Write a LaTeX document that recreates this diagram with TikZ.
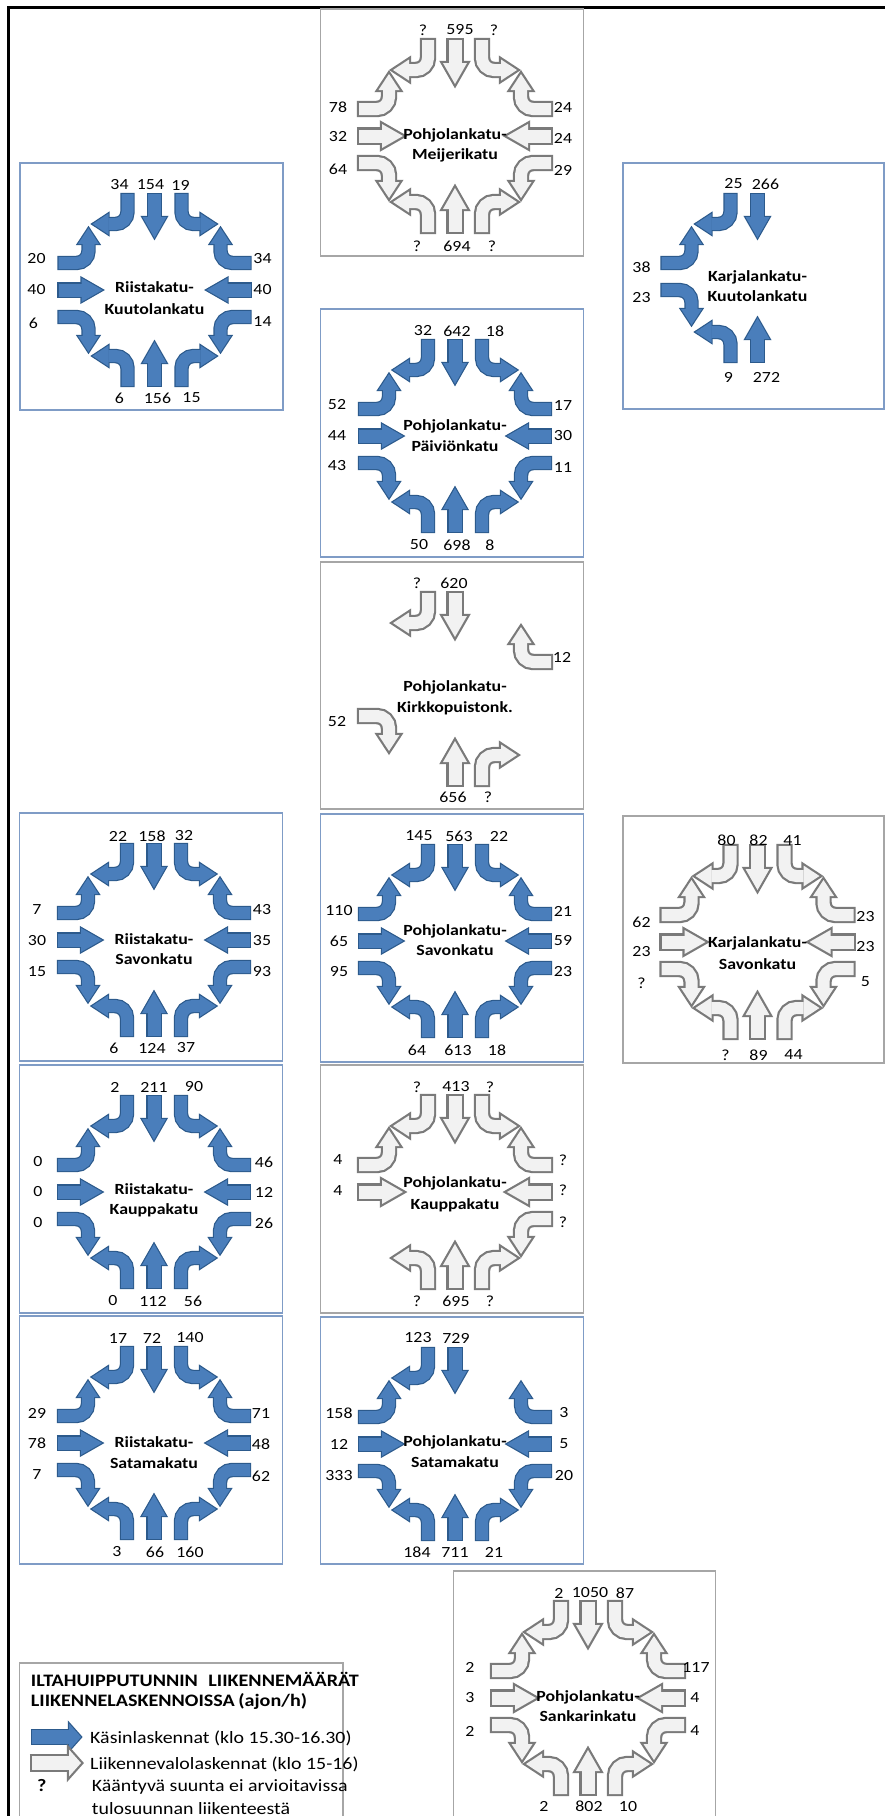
\documentclass[tikz,border=0pt]{standalone}
\usepackage{fontspec}
\setmainfont{Carlito}[FakeStretch=1.15]
\definecolor{bfill}{HTML}{4A7EBB}
\definecolor{bbord}{HTML}{2C5A8C}
\definecolor{gfill}{HTML}{F2F2F2}
\definecolor{gbord}{HTML}{7A7A7A}
\definecolor{bbox}{HTML}{7F9CC6}
\definecolor{gbox}{HTML}{A6A6A6}
\newcommand\setblue{\def\AF{bfill}\def\AB{bbord}\def\BW{1.2}}
\newcommand\setgray{\def\AF{gfill}\def\AB{gbord}\def\BW{2.2}}
% straight arrow, canonical: from top, pointing down
\newcommand\SA[2][]{%
 \begin{scope}[#1,rotate=#2]
  \draw[\AB, line width={(13+2*\BW)*1pt}] (0,-96-\BW) -- (0,-73);
  \filldraw[\AB, line width={2*\BW*1pt}] (-12,-73) -- (0,-52) -- (12,-73) -- cycle;
  \draw[\AF, line width=13pt] (0,-96) -- (0,-72.8);
  \fill[\AF] (-12,-73) -- (0,-52) -- (12,-73) -- cycle;
 \end{scope}}
% turning arrow, canonical: from top, turning outward (sigma = +1 to the right of screen)
\newcommand\TA[3][]{%
 \begin{scope}[#1,rotate=#2,xscale=#3]
  \draw[\AB, line width={(12+2*\BW)*1pt}, rounded corners=12pt] (27,-96-\BW) |- (46,-66);
  \filldraw[\AB, line width={2*\BW*1pt}] (46,-76.5) -- (62,-66) -- (46,-55.5) -- cycle;
  \draw[\AF, line width=12pt, rounded corners=12pt] (27,-96) |- (46.2,-66);
  \fill[\AF] (46,-76.5) -- (62,-66) -- (46,-55.5) -- cycle;
 \end{scope}}
\newcommand\allarrows{\SA{0}\SA{90}\SA{180}\SA{-90}%
 \TA{0}{1}\TA{0}{-1}\TA{90}{1}\TA{90}{-1}\TA{180}{1}\TA{180}{-1}\TA{-90}{1}\TA{-90}{-1}}
\newcounter{lb}
\newcommand\lab[3]{\stepcounter{lb}\node[lbl] (lb\arabic{lb}) at (#1,#2) {#3};}
\newcommand\nm[4]{\stepcounter{lb}%
 \node[nmf] (na\arabic{lb}) at (0,#1+4.8) {#3};%
 \node[nmf] (nb\arabic{lb}) at (0,#2+4.8) {#4};}
% legend arrow
\newcommand\LA[1]{%
  \draw[\AB, line width={(14+2*\BW)*1pt}] (32-\BW,#1) -- (69,#1);
  \filldraw[\AB, line width={2*\BW*1pt}] (69,#1-13.5) -- (81,#1) -- (69,#1+13.5) -- cycle;
  \draw[\AF, line width=14pt] (32,#1) -- (69.2,#1);
  \fill[\AF] (69,#1-13.5) -- (81,#1) -- (69,#1+13.5) -- cycle;}
\begin{document}
\begin{tikzpicture}[x=1pt,y=-1pt,
  lbl/.style={inner sep=0pt, font=\fontsize{15.5}{18}\selectfont},
  nmf/.style={anchor=base, inner sep=0pt, font=\fontsize{15.5}{18}\selectfont\bfseries},
  bpanel/.style={draw=bbox, line width=1.3pt},
  gpanel/.style={draw=gbox, line width=1.3pt},
  legtxt/.style={anchor=base west, inner sep=0pt, font=\fontsize{17.3}{18}\selectfont},
  legbold/.style={anchor=base west, inner sep=0pt, font=\fontsize{17.5}{18}\selectfont\bfseries}]
\useasboundingbox (0,0) rectangle (885,1816);
\fill[white] (0,0) rectangle (885,1816);
\draw[black, line width=3pt] (8.5,1830) -- (8.5,7.5) -- (895,7.5);

% ---------- boxes ----------
\path[gpanel] (320.5,9) rectangle ++(263,247);
\path[bpanel] (20,163) rectangle ++(263,247);
\path[bpanel] (623,163) rectangle ++(261,246);
\path[bpanel] (320.5,309) rectangle ++(263,248);
\path[gpanel] (320.5,562) rectangle ++(263,247);
\path[bpanel] (19.5,813) rectangle ++(263,248);
\path[bpanel] (320.5,814) rectangle ++(263,248);
\path[gpanel] (623,816) rectangle ++(261,247);
\path[bpanel] (19.5,1065) rectangle ++(263,248);
\path[gpanel] (320.5,1065) rectangle ++(263,248);
\path[bpanel] (19.5,1316) rectangle ++(263,248);
\path[bpanel] (320.5,1317) rectangle ++(263,247);
\path[gpanel] (453.5,1571) rectangle ++(262,260);
\path[gpanel] (19.5,1663) rectangle (343,1830);

% ---------- Pohjolankatu-Meijerikatu ----------
\begin{scope}[shift={(455,136)}]
\setgray\allarrows
\lab{-32}{-106}{?}\lab{5}{-106}{595}\lab{39}{-106}{?}
\lab{-117}{-29}{78}\lab{-117}{1}{32}\lab{-117}{33}{64}
\lab{108}{-29}{24}\lab{108}{2}{24}\lab{108}{34}{29}
\lab{-38}{110}{?}\lab{2}{110}{694}\lab{37}{110}{?}
\nm{-1}{19}{Pohjolankatu-}{Meijerikatu}
\end{scope}

% ---------- Riistakatu-Kuutolankatu ----------
\begin{scope}[shift={(154.5,290)}]
\setblue\allarrows
\lab{-35}{-105}{34}\lab{-4}{-105}{154}\lab{26}{-105}{19}
\lab{-118}{-31}{20}\lab{-118}{0}{40}\lab{-121}{33}{6}
\lab{108}{-31}{34}\lab{108}{0}{40}\lab{108}{32}{14}
\lab{-35}{108}{6}\lab{3}{108}{156}\lab{37}{108}{15}
\nm{-2}{20}{Riistakatu-}{Kuutolankatu}
\end{scope}

% ---------- Karjalankatu-Kuutolankatu ----------
\begin{scope}[shift={(757.5,290)}]
\setblue
\SA{0}\TA{0}{-1}\TA{90}{1}\TA[shift={(0,-27)}]{90}{-1}
\TA[shift={(0,-24)}]{180}{1}\SA[shift={(0,-24)}]{180}
\lab{-24}{-106}{25}\lab{8}{-106}{266}
\lab{-116}{-23}{38}\lab{-116}{8}{23}
\lab{-29}{87}{9}\lab{9}{87}{272}
\nm{-13}{7}{Karjalankatu-}{Kuutolankatu}
\end{scope}

% ---------- Pohjolankatu-Paiviönkatu ----------
\begin{scope}[shift={(455,436)}]
\setblue\allarrows
\lab{-32}{-105}{32}\lab{2}{-105}{642}\lab{40}{-105}{18}
\lab{-118}{-31}{52}\lab{-118}{0}{44}\lab{-118}{30}{43}
\lab{108}{-30}{17}\lab{108}{0}{30}\lab{108}{32}{11}
\lab{-36}{109}{50}\lab{2}{109}{698}\lab{35}{109}{8}
\nm{-10}{11}{Pohjolankatu-}{Päiviönkatu}
\end{scope}

% ---------- Pohjolankatu-Kirkkopuistonk. ----------
\begin{scope}[shift={(455,689)}]
\setgray
\SA{0}\TA{0}{-1}\TA{-90}{-1}\TA{90}{-1}\SA{180}\TA{180}{-1}
\lab{-38}{-106}{?}\lab{-1}{-106}{620}
\lab{107}{-32}{12}
\lab{-118}{33}{52}
\lab{-2}{108}{656}\lab{33}{108}{?}
\nm{-2}{19}{Pohjolankatu-}{Kirkkopuistonk.}
\end{scope}

% ---------- Riistakatu-Savonkatu ----------
\begin{scope}[shift={(154,940)}]
\setblue\allarrows
\lab{-36}{-104}{22}\lab{-2}{-104}{158}\lab{30}{-104}{32}
\lab{-117}{-30}{7}\lab{-117}{1}{30}\lab{-117}{32}{15}
\lab{108}{-30}{43}\lab{108}{1}{35}\lab{108}{32}{93}
\lab{-40}{108}{6}\lab{-2}{108}{124}\lab{32}{108}{37}
\nm{0}{20}{Riistakatu-}{Savonkatu}
\end{scope}

% ---------- Pohjolankatu-Savonkatu ----------
\begin{scope}[shift={(455,941)}]
\setblue\allarrows
\lab{-36}{-105}{145}\lab{4}{-105}{563}\lab{44}{-105}{22}
\lab{-116}{-30}{110}\lab{-116}{0}{65}\lab{-116}{31}{95}
\lab{108}{-30}{21}\lab{108}{0}{59}\lab{108}{31}{23}
\lab{-38}{109}{64}\lab{3}{109}{613}\lab{42}{109}{18}
\nm{-10}{10}{Pohjolankatu-}{Savonkatu}
\end{scope}

% ---------- Karjalankatu-Savonkatu ----------
\begin{scope}[shift={(757.5,942)}]
\setgray\allarrows
\lab{-31}{-102}{80}\lab{1}{-102}{82}\lab{35}{-102}{41}
\lab{-116}{-20}{62}\lab{-116}{10}{23}\lab{-116}{41}{?}
\lab{108}{-25}{23}\lab{108}{5}{23}\lab{108}{40}{5}
\lab{-32}{113}{?}\lab{1}{113}{89}\lab{36}{113}{44}
\nm{1}{23}{Karjalankatu-}{Savonkatu}
\end{scope}

% ---------- Riistakatu-Kauppakatu ----------
\begin{scope}[shift={(154,1192)}]
\setblue\allarrows
\lab{-39}{-105}{2}\lab{0}{-105}{211}\lab{40}{-105}{90}
\lab{-116}{-30}{0}\lab{-116}{0}{0}\lab{-116}{31}{0}
\lab{110}{-30}{46}\lab{110}{0}{12}\lab{110}{31}{26}
\lab{-41}{109}{0}\lab{-1}{109}{112}\lab{39}{109}{56}
\nm{-2}{18}{Riistakatu-}{Kauppakatu}
\end{scope}

% ---------- Pohjolankatu-Kauppakatu ----------
\begin{scope}[shift={(455,1192)}]
\setgray
\SA{0}\SA{90}\SA{180}\SA{-90}
\TA{0}{1}\TA{0}{-1}\TA{90}{1}\TA{180}{1}\TA{180}{-1}\TA{-90}{1}\TA{-90}{-1}
\lab{-38}{-105}{?}\lab{1}{-105}{413}\lab{35}{-105}{?}
\lab{-117}{-32}{4}\lab{-117}{-1}{4}
\lab{108}{-32}{?}\lab{108}{-2}{?}\lab{108}{30}{?}
\lab{-38}{109}{?}\lab{1}{109}{695}\lab{35}{109}{?}
\nm{-9}{13}{Pohjolankatu-}{Kauppakatu}
\end{scope}

% ---------- Riistakatu-Satamakatu ----------
\begin{scope}[shift={(154,1443)}]
\setblue\allarrows
\lab{-36}{-105}{17}\lab{-2}{-105}{72}\lab{36}{-105}{140}
\lab{-117}{-30}{29}\lab{-117}{0}{78}\lab{-117}{32}{7}
\lab{107}{-30}{71}\lab{107}{1}{48}\lab{107}{33}{62}
\lab{-37}{109}{3}\lab{1}{109}{66}\lab{36}{109}{160}
\nm{0}{21}{Riistakatu-}{Satamakatu}
\end{scope}

% ---------- Pohjolankatu-Satamakatu ----------
\begin{scope}[shift={(455,1444)}]
\setblue
\SA{0}\SA{90}\SA{180}\SA{-90}
\TA{0}{-1}\TA{90}{1}\TA{90}{-1}\TA{180}{1}\TA{180}{-1}\TA{-90}{1}\TA{-90}{-1}
\lab{-37}{-106}{123}\lab{1}{-106}{729}
\lab{-116}{-31}{158}\lab{-116}{0}{12}\lab{-116}{32}{333}
\lab{109}{-31}{3}\lab{109}{0}{5}\lab{109}{32}{20}
\lab{-38}{108}{184}\lab{0}{108}{711}\lab{39}{108}{21}
\nm{-2}{19}{Pohjolankatu-}{Satamakatu}
\end{scope}

% ---------- Pohjolankatu-Sankarinkatu ----------
\begin{scope}[shift={(588,1698)}]
\setgray\allarrows
\lab{-29}{-105}{2}\lab{2}{-105}{1050}\lab{37}{-105}{87}
\lab{-118}{-31}{2}\lab{-118}{0}{3}\lab{-118}{33}{2}
\lab{108}{-31}{117}\lab{107}{0}{4}\lab{107}{33}{4}
\lab{-44}{108}{2}\lab{1}{108}{802}\lab{40}{108}{10}
\nm{-1}{19}{Pohjolankatu-}{Sankarinkatu}
\end{scope}

% ---------- legend ----------
\node[legbold] (lg1) at (30.7,1686) {ILTAHUIPPUTUNNIN\hspace{0.6em}LIIKENNEMÄÄRÄT};
\node[legbold] (lg2) at (30.7,1706) {LIIKENNELASKENNOISSA\hspace{0.2em}(ajon/h)};
\setblue\LA{1737}
\setgray\LA{1763}
\node[legtxt] (lg3) at (90,1743) {Käsinlaskennat (klo 15.30-16.30)};
\node[legtxt] (lg4) at (90,1769) {Liikennevalolaskennat (klo 15-16)};
\node[legbold] (lg5) at (37,1791) {?};
\node[legtxt] (lg6) at (91.7,1791) {Kääntyvä suunta ei arvioitavissa};
\node[legtxt] (lg7) at (91.7,1814) {tulosuunnan liikenteestä};
\end{tikzpicture}
\end{document}
